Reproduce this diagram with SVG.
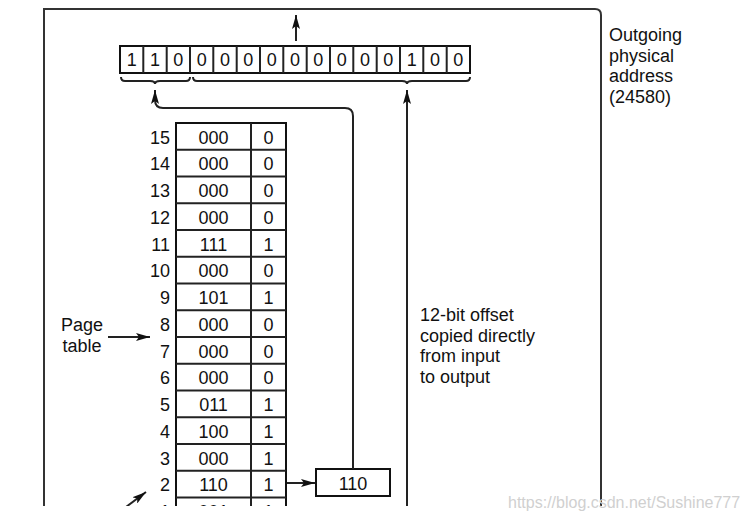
<svg xmlns="http://www.w3.org/2000/svg" width="748" height="521" viewBox="0 0 748 521">
<style>
text{font-family:"Liberation Sans",Arial,Helvetica,sans-serif;font-size:18px;fill:#111}
.c{text-anchor:middle}
.e{text-anchor:end}
.ln{fill:none;stroke:#222;stroke-width:2}
.tb{fill:#fff;stroke:#111;stroke-width:2}
.fr{fill:none;stroke:#333;stroke-width:2}
.wm{font-size:16px;fill:#d0d0d0}
</style>
<defs>
<marker id="ah" markerUnits="userSpaceOnUse" markerWidth="14" markerHeight="8" refX="14" refY="4" orient="auto">
<path d="M0,0 L14,4 L0,8 L3,4 z" fill="#111"/>
</marker>
<clipPath id="cut"><rect x="0" y="0" width="748" height="506"/></clipPath>
</defs>
<g clip-path="url(#cut)">
<g id="frame">
<path class="fr" d="M44,510 V9 H595 Q601,9 601,15 V510"/>
</g>
<g id="register">
<rect class="tb" x="120" y="46" width="350" height="27"/>
<path class="ln" stroke="#111" d="M143.3,46V73M166.7,46V73M190,46V73M213.3,46V73M236.7,46V73M260,46V73M283.3,46V73M306.7,46V73M330,46V73M353.3,46V73M376.7,46V73M400,46V73M423.3,46V73M446.7,46V73"/>
<g class="c">
<text x="131.7" y="66">1</text><text x="155" y="66">1</text><text x="178.3" y="66">0</text><text x="201.7" y="66">0</text><text x="225" y="66">0</text><text x="248.3" y="66">0</text><text x="271.7" y="66">0</text><text x="295" y="66">0</text><text x="318.3" y="66">0</text><text x="341.7" y="66">0</text><text x="365" y="66">0</text><text x="388.3" y="66">0</text><text x="411.7" y="66">1</text><text x="435" y="66">0</text><text x="458.3" y="66">0</text>
</g>
<path class="ln" stroke-width="1.5" d="M121,77 Q121,81 125,81 H150 Q155,81 155,84 Q155,81 160,81 H186 Q190,81 190,77"/>
<path class="ln" stroke-width="1.5" d="M193,77 Q193,81 197,81 H402 Q407,81 407,84 Q407,81 412,81 H466 Q470,81 470,77"/>
</g>
<g id="page-table">
<rect class="tb" x="176" y="123" width="110" height="400"/>
<path class="ln" stroke="#111" d="M251,123V523 M176,149.75H286 M176,176.5H286 M176,203.25H286 M176,230H286 M176,256.75H286 M176,283.5H286 M176,310.25H286 M176,337H286 M176,363.75H286 M176,390.5H286 M176,417.25H286 M176,444H286 M176,470.75H286 M176,497.5H286"/>
<g class="e">
<text x="170" y="143.5">15</text><text x="170" y="170.25">14</text><text x="170" y="197">13</text><text x="170" y="223.75">12</text><text x="170" y="250.5">11</text><text x="170" y="277.25">10</text><text x="170" y="304">9</text><text x="170" y="330.75">8</text><text x="170" y="357.5">7</text><text x="170" y="384.25">6</text><text x="170" y="411">5</text><text x="170" y="437.75">4</text><text x="170" y="464.5">3</text><text x="170" y="491.25">2</text><text x="170" y="518">1</text>
</g>
<g class="c">
<text x="213.5" y="143.5">000</text><text x="213.5" y="170.25">000</text><text x="213.5" y="197">000</text><text x="213.5" y="223.75">000</text><text x="213.5" y="250.5">111</text><text x="213.5" y="277.25">000</text><text x="213.5" y="304">101</text><text x="213.5" y="330.75">000</text><text x="213.5" y="357.5">000</text><text x="213.5" y="384.25">000</text><text x="213.5" y="411">011</text><text x="213.5" y="437.75">100</text><text x="213.5" y="464.5">000</text><text x="213.5" y="491.25">110</text><text x="213.5" y="518">001</text>
<text x="268.5" y="143.5">0</text><text x="268.5" y="170.25">0</text><text x="268.5" y="197">0</text><text x="268.5" y="223.75">0</text><text x="268.5" y="250.5">1</text><text x="268.5" y="277.25">0</text><text x="268.5" y="304">1</text><text x="268.5" y="330.75">0</text><text x="268.5" y="357.5">0</text><text x="268.5" y="384.25">0</text><text x="268.5" y="411">1</text><text x="268.5" y="437.75">1</text><text x="268.5" y="464.5">1</text><text x="268.5" y="491.25">1</text><text x="268.5" y="518">1</text>
</g>
</g>
<g id="frame-box">
<rect class="tb" x="316" y="469" width="74" height="27" stroke="#222"/>
<text class="c" x="353" y="490">110</text>
</g>
<g id="connectors">
<path class="ln" d="M296,41 V15" marker-end="url(#ah)"/>
<path class="ln" d="M353,469 V116 Q353,108 345,108 H163 Q155,108 155,100 V90" marker-end="url(#ah)"/>
<path class="ln" d="M407,510 V90" marker-end="url(#ah)"/>
<path class="ln" d="M287,483 H315" marker-end="url(#ah)"/>
<path class="ln" stroke-width="1.5" d="M108,337 H150" marker-end="url(#ah)"/>
<path class="ln" stroke-width="1.5" d="M126,507 L146,492" marker-end="url(#ah)"/>
</g>
</g>
<g id="labels">
<text class="c" x="82" y="331">Page</text>
<text class="c" x="82" y="352">table</text>
<text x="420" y="321">12-bit offset</text>
<text x="420" y="341.7">copied directly</text>
<text x="420" y="362.4">from input</text>
<text x="420" y="383.1">to output</text>
<text x="609" y="41">Outgoing</text>
<text x="609" y="61.7">physical</text>
<text x="609" y="82.4">address</text>
<text x="609" y="103.1">(24580)</text>
</g>
<text class="wm" x="508" y="508">https://blog.csdn.net/Sushine777</text>
</svg>
